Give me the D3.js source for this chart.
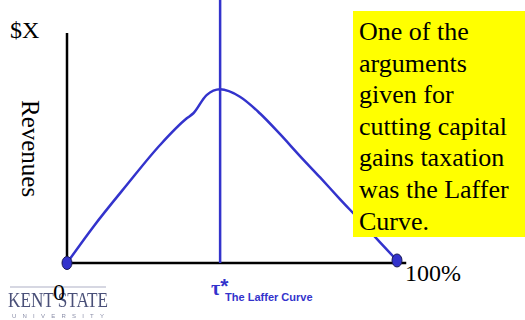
<!DOCTYPE html>
<html>
<head>
<meta charset="utf-8">
<script src="https://cdn.jsdelivr.net/npm/d3@7"></script>
<style>
  html, body { margin: 0; padding: 0; background: #fff; }
  svg { display: block; }
</style>
</head>
<body>
<svg id="chart" width="525" height="320"></svg>
<script>
// Laffer curve: tax rate (%) against tax revenue (relative units)
const taxRate = [0, 8, 18.1, 28.2, 36.3, 38.3, 42.3, 46.4, 52.4, 58.5, 64.5, 70.6, 76.7, 82.7, 88.8, 94.8, 100];
const revenue = [0, 15.8, 33.9, 51.3, 62.9, 65.1, 73, 75.5, 72.3, 65, 56.1, 46.5, 37.2, 27.8, 18.5, 9.1, 1.1];
const optimalRate = 46.4;
const xTickLabels = ["0", "100%"];
const xTickValues = [0, 100];
const yLabel = "$X";
const yTitle = "Revenues";
const noteLines = ["One of the", "arguments", "given for", "cutting capital", "gains taxation", "was the Laffer", "Curve."];

const blue = "#3333cc";
const serif = "Liberation Serif, Times New Roman, serif";
const sans = "Liberation Sans, Arial, sans-serif";
const svg = d3.select("#chart");

const x = d3.scaleLinear().domain([0, 100]).range([67, 397]);
const y = d3.scaleLinear().domain([0, 100]).range([263, 33]);

// axes
svg.append("line")
  .attr("x1", x(0)).attr("x2", x(0))
  .attr("y1", y(0)).attr("y2", y(100))
  .attr("stroke", "#000").attr("stroke-width", 2.5);
svg.append("line")
  .attr("x1", x(0)).attr("x2", x(102.8))
  .attr("y1", y(0)).attr("y2", y(0))
  .attr("stroke", "#000").attr("stroke-width", 2.5);

// revenue-maximising rate
svg.append("line")
  .attr("x1", x(optimalRate)).attr("x2", x(optimalRate))
  .attr("y1", 0).attr("y2", y(0))
  .attr("stroke", blue).attr("stroke-width", 2.5);

// the curve
const pts = taxRate.map((t, i) => [t, revenue[i]]);
const line = d3.line()
  .x(d => x(d[0])).y(d => y(d[1]))
  .curve(d3.curveMonotoneX);
svg.append("path")
  .attr("d", line(pts))
  .attr("fill", "none")
  .attr("stroke", blue)
  .attr("stroke-width", 2.5)
  .attr("stroke-linejoin", "round");

// end points
[pts[0], pts[pts.length - 1]].forEach(p => {
  svg.append("ellipse")
    .attr("cx", x(p[0])).attr("cy", y(p[1]))
    .attr("rx", 5).attr("ry", 6.5)
    .attr("fill", blue)
    .attr("stroke", "#1a1a55").attr("stroke-width", 1);
});

// note box
const note = svg.append("g");
note.append("rect")
  .attr("x", 353).attr("y", 11)
  .attr("width", 172).attr("height", 226)
  .attr("fill", "#ffff00");
note.append("text")
  .attr("font-family", serif)
  .attr("font-size", 26)
  .attr("fill", "#000")
  .selectAll("tspan")
  .data(noteLines)
  .join("tspan")
  .attr("x", 359)
  .attr("y", (d, i) => 40 + i * 31.6)
  .text(d => d);

// axis labels
svg.append("text")
  .attr("x", 10).attr("y", 38)
  .attr("font-family", serif).attr("font-size", 24)
  .text(yLabel);

svg.append("text")
  .attr("transform", "translate(22,100) rotate(90)")
  .attr("font-family", serif).attr("font-size", 25)
  .text(yTitle);

// Kent State wordmark
svg.append("defs").append("filter").attr("id", "soft")
  .append("feGaussianBlur").attr("stdDeviation", 0.5);
const logo = svg.append("g").attr("filter", "url(#soft)");
logo.append("line")
  .attr("x1", 10).attr("x2", 106).attr("y1", 287).attr("y2", 287)
  .attr("stroke", "#c8cad8").attr("stroke-width", 1.5);
logo.append("text")
  .attr("x", 8).attr("y", 307)
  .attr("font-family", serif).attr("font-size", 20)
  .attr("fill", "#4a5078")
  .attr("textLength", 100).attr("lengthAdjust", "spacingAndGlyphs")
  .text("KENT STATE");
logo.append("text")
  .attr("x", 12).attr("y", 318)
  .attr("font-family", sans).attr("font-size", 6)
  .attr("fill", "#8a8ea8")
  .attr("textLength", 92).attr("lengthAdjust", "spacing")
  .text("UNIVERSITY");

// x tick labels
svg.selectAll("text.xtick")
  .data(xTickValues)
  .join("text")
  .attr("class", "xtick")
  .attr("x", (d, i) => i === 0 ? x(d) - 8 : x(d) + 8)
  .attr("y", (d, i) => i === 0 ? 300 : 281)
  .attr("text-anchor", (d, i) => i === 0 ? "middle" : "start")
  .attr("font-family", serif).attr("font-size", 24)
  .attr("fill", "#000")
  .text((d, i) => xTickLabels[i]);

// tau* marker with the chart title
const tau = svg.append("text")
  .attr("x", x(optimalRate) - 9).attr("y", 295)
  .attr("fill", blue).attr("font-weight", "bold");
tau.append("tspan")
  .attr("font-family", serif).attr("font-size", 20)
  .text("τ");
tau.append("tspan")
  .attr("font-family", sans).attr("font-size", 21)
  .attr("dy", -2)
  .text("*");
svg.append("text")
  .attr("x", x(optimalRate) + 5).attr("y", 301)
  .attr("font-family", sans).attr("font-size", 11).attr("font-weight", "bold")
  .attr("fill", blue)
  .text("The Laffer Curve");
</script>
</body>
</html>
